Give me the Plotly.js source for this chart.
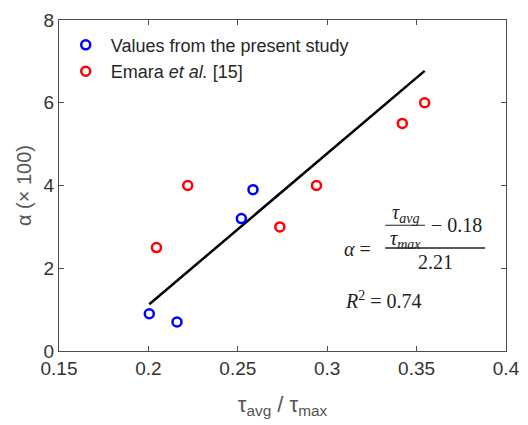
<!DOCTYPE html>
<html>
<head>
<meta charset="utf-8">
<script src="https://cdn.plot.ly/plotly-3.0.1.min.js"></script>
<style>html,body{margin:0;padding:0;background:#fff;}#chart{width:528px;height:425px;}</style>
</head>
<body>
<div id="chart"></div>
<script>
// Data
const presentX = [0.2005, 0.216, 0.252, 0.2585];
const presentY = [0.9, 0.7, 3.2, 3.9];
const emaraX = [0.2045, 0.222, 0.2735, 0.294, 0.342, 0.3545];
const emaraY = [2.5, 4.0, 3.0, 4.0, 5.5, 6.0];
const fitX = [0.2005, 0.3545];
const fitY = [1.13, 6.77];
const xTicks = [0.15, 0.2, 0.25, 0.3, 0.35, 0.4];
const xTickLabels = ['0.15', '0.2', '0.25', '0.3', '0.35', '0.4'];
const yTicks = [0, 2, 4, 6, 8];
const yTickLabels = ['0', '2', '4', '6', '8'];
const seriesNames = ['\u00a0Values from the present study', '\u00a0Emara <i>et al.</i> [15]'];

const axisColor = '#4d4d4d';
const tickFont = {family: 'Liberation Sans, Arial, sans-serif', size: 19, color: '#333333'};
const serif = 'Liberation Serif, Times New Roman, serif';
const eqFont = {family: serif, size: 20, color: '#222222'};

const traces = [
  {x: fitX, y: fitY, mode: 'lines', line: {color: '#000000', width: 2.5}, showlegend: false, hoverinfo: 'skip'},
  {x: presentX, y: presentY, mode: 'markers', name: seriesNames[0],
   marker: {symbol: 'circle-open', size: 9, color: '#0000ff', line: {width: 2.5, color: '#0000ff'}}},
  {x: emaraX, y: emaraY, mode: 'markers', name: seriesNames[1],
   marker: {symbol: 'circle-open', size: 9, color: '#ff0000', line: {width: 2.5, color: '#ff0000'}}}
];

const layout = {
  width: 528, height: 425,
  margin: {l: 59, r: 22, t: 20, b: 74},
  paper_bgcolor: '#ffffff', plot_bgcolor: '#ffffff',
  showlegend: true,
  legend: {x: 0.015, y: 0.98, xanchor: 'left', yanchor: 'top', bgcolor: 'rgba(0,0,0,0)',
           font: {family: 'Liberation Sans, Arial, sans-serif', size: 18, color: '#262626'},
           tracegroupgap: 0, itemwidth: 30},
  xaxis: {range: [0.15, 0.4], tickmode: 'array', tickvals: xTicks, ticktext: xTickLabels,
          ticks: 'inside', ticklen: 5, tickcolor: axisColor, showline: true, linecolor: axisColor, linewidth: 1.2,
          mirror: 'ticks', showgrid: false, zeroline: false, tickfont: tickFont,
          title: {text: 'τ<sub>avg</sub> / τ<sub>max</sub>', standoff: 18,
                  font: {family: 'Liberation Sans, Arial, sans-serif', size: 22, color: '#555555'}}},
  yaxis: {range: [0, 8], tickmode: 'array', tickvals: yTicks, ticktext: yTickLabels,
          ticks: 'inside', ticklen: 5, tickcolor: axisColor, showline: true, linecolor: axisColor, linewidth: 1.2,
          mirror: 'ticks', showgrid: false, zeroline: false, tickfont: tickFont,
          title: {text: 'α (× 100)', standoff: 6,
                  font: {family: 'Liberation Sans, Arial, sans-serif', size: 20, color: '#555555'}}},
  shapes: [
    {type: 'line', xref: 'x', yref: 'y', x0: 0.3324, x1: 0.3883, y0: 2.49, y1: 2.49, line: {color: '#222222', width: 1.3}},
    {type: 'line', xref: 'x', yref: 'y', x0: 0.3324, x1: 0.3547, y0: 3.04, y1: 3.04, line: {color: '#222222', width: 1.1}}
  ],
  annotations: [
    {xref: 'x', yref: 'y', x: 0.3172, y: 2.46, text: '<i>α</i> =', showarrow: false, font: eqFont},
    {xref: 'x', yref: 'y', x: 0.3437, y: 3.33, text: '<i>τ<sub>avg</sub></i>', showarrow: false, font: eqFont},
    {xref: 'x', yref: 'y', x: 0.3437, y: 2.70, text: '<i>τ<sub>max</sub></i>', showarrow: false, font: eqFont},
    {xref: 'x', yref: 'y', x: 0.3725, y: 3.04, text: '− 0.18', showarrow: false, font: eqFont},
    {xref: 'x', yref: 'y', x: 0.3603, y: 2.14, text: '2.21', showarrow: false, font: eqFont},
    {xref: 'x', yref: 'y', x: 0.3089, y: 1.23, xanchor: 'left', text: '<i>R</i><sup>2</sup> = 0.74', showarrow: false, font: eqFont}
  ]
};

Plotly.newPlot('chart', traces, layout, {displayModeBar: false, staticPlot: true});
</script>
</body>
</html>
